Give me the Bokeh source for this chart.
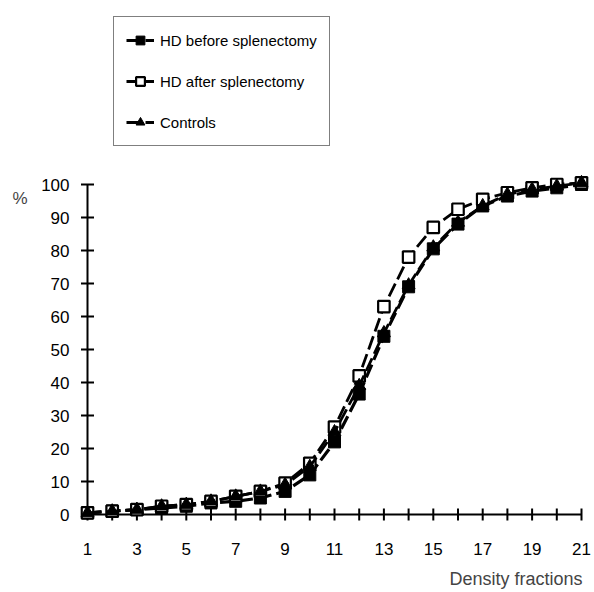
import math
from bokeh.plotting import figure
from bokeh.models import Range1d, Legend, LegendItem, Label
from bokeh.embed import file_html
from bokeh.resources import INLINE

# ---- data ----
fractions = list(range(1, 22))
hd_before = [0.5, 1, 1.5, 2, 2.5, 3.5, 4, 5, 7, 12, 22, 36.5, 54, 69, 80.5, 88, 93.5, 96.5, 98, 99, 100]
hd_after = [0.5, 1, 1.5, 2.5, 3, 4, 5.5, 7, 9.5, 15.5, 26.5, 42, 63, 78, 87, 92.5, 95.5, 97.5, 99, 100, 100.5]
controls = [0.5, 1, 1.5, 2.5, 3, 4, 5.5, 7, 9, 14.5, 25, 39, 55, 69.5, 81, 88.5, 93.5, 97, 98.5, 99.5, 100.5]
series_labels = ["HD before splenectomy", "HD after splenectomy", "Controls"]
x_ticks = [1, 3, 5, 7, 9, 11, 13, 15, 17, 19, 21]
x_minor = [2, 4, 6, 8, 10, 12, 14, 16, 18, 20]
y_ticks = [0, 10, 20, 30, 40, 50, 60, 70, 80, 90, 100]
x_tick_labels = [str(t) for t in x_ticks]
y_tick_labels = [str(t) for t in y_ticks]

FONT = "Liberation Sans"
W, H = 592, 590
X0PX, XPX = 87, 24.7     # pixel of fraction 1, px per fraction
Y0PX, YPX = 514, 3.3     # pixel of 0 %, px per percent

p = figure(width=W, height=H, output_backend="svg", toolbar_location=None,
           x_axis_location=None, y_axis_location=None,
           x_range=Range1d(1 - X0PX / XPX, 1 + (W - X0PX) / XPX),
           y_range=Range1d(-(H - Y0PX) / YPX, Y0PX / YPX),
           min_border=0)
p.outline_line_color = None
p.background_fill_color = "white"
p.border_fill_color = "white"
for g in p.grid:
    g.visible = False

# ---- axes drawn in data space ----
p.segment(x0=[1], y0=[y_ticks[0]], x1=[1], y1=[y_ticks[-1]], line_color="black", line_width=2)
p.segment(x0=[x_ticks[0]], y0=[0], x1=[x_ticks[-1]], y1=[0], line_color="black", line_width=2)
p.scatter([1] * len(y_ticks), y_ticks, marker="dash", size=13, line_color="black", line_width=2)
p.scatter(x_ticks + x_minor, [0] * (len(x_ticks) + len(x_minor)), marker="dash", angle=math.pi / 2,
          size=12, line_color="black", line_width=2)
p.text([1] * len(y_ticks), y_ticks, text=y_tick_labels, x_offset=-18, text_align="right",
       text_baseline="middle", text_font={"value": FONT}, text_font_size="17px", text_color="black")
p.text(x_ticks, [0] * len(x_ticks), text=x_tick_labels, y_offset=34, text_align="center",
       text_baseline="middle", text_font={"value": FONT}, text_font_size="17px", text_color="black")

DASH = "14 5"
l1 = p.line(fractions, hd_before, line_color="black", line_width=3.2, line_dash=DASH)
s1 = p.scatter(fractions, hd_before, marker="square", size=12, fill_color="black", line_color="black", line_width=1)
l2 = p.line(fractions, hd_after, line_color="black", line_width=2.8, line_dash=DASH)
s2 = p.scatter(fractions, hd_after, marker="square", size=11.5, fill_color="white", line_color="black", line_width=2.2)
l3 = p.line(fractions, controls, line_color="black", line_width=2.8, line_dash=DASH)
s3 = p.scatter(fractions, controls, marker="triangle", size=13, fill_color="black", line_color="black", line_width=1)

legend = Legend(items=[LegendItem(label=series_labels[0], renderers=[l1, s1]),
                       LegendItem(label=series_labels[1], renderers=[l2, s2]),
                       LegendItem(label=series_labels[2], renderers=[l3, s3])],
                location=(113, H - 146), margin=0, padding=12, spacing=19,
                glyph_width=28, glyph_height=22, label_standoff=6,
                label_text_font=FONT, label_text_font_size="15px", label_text_color="black",
                border_line_color="black", border_line_width=1.5,
                background_fill_color="white", background_fill_alpha=1)
p.add_layout(legend)

p.add_layout(Label(x=12, y=H - 198, x_units="screen", y_units="screen", text="%",
                   text_font=FONT, text_font_size="17px", text_align="left", text_baseline="middle"))
p.add_layout(Label(x=582, y=H - 578, x_units="screen", y_units="screen", text="Density fractions",
                   text_font=FONT, text_font_size="18px", text_align="right", text_baseline="middle"))

open("out.html", "w").write(file_html(p, INLINE))
